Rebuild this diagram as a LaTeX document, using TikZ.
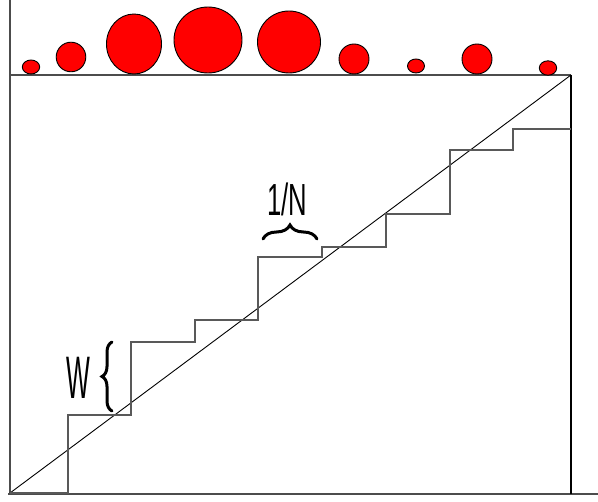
\documentclass[tikz,border=0pt]{standalone}
\usepackage{fontspec}
\setmainfont{Liberation Sans}
\usepackage{graphicx}
\usetikzlibrary{decorations.pathreplacing}
\begin{document}
\begin{tikzpicture}[x=1pt,y=-1pt,
  axis/.style={draw=black!70, line width=1.1pt},
  stair/.style={draw=black!65, line width=1.1pt},
  diag/.style={draw=black, line width=0.9pt},
  ball/.style={draw=black, fill=red, line width=0.9pt},
  brc/.style={draw=black, line width=3pt, line cap=round, decorate}
]
\useasboundingbox (0,0) rectangle (598,502);
% frame corners
\coordinate (O) at (10,493);
\coordinate (TL) at (10,75);
\coordinate (TR) at (571,75);
\coordinate (BR) at (571,494);
% axes
\draw[axis] (10,0) -- (O);
\draw[axis] (8,494) -- (598,494);
\draw[axis] (9,75) -- (TR);
\draw[draw=black, line width=1.1pt] (TR) -- (BR);
% diagonal
\draw[diag] (O) -- (TR);
% staircase
\draw[stair] (O) -- (68,493) -- (68,415) -- (131,415) -- (131,342) -- (195,342) -- (195,320)
  -- (258,320) -- (258,257) -- (322,257) -- (322,247) -- (386,247) -- (386,214)
  -- (450,214) -- (450,150) -- (513,150) -- (513,129) -- (571,129);
% balls
\draw[ball] (31,67) ellipse [x radius=8.7, y radius=7];
\draw[ball] (71,57) ellipse [x radius=14.8, y radius=14.8];
\draw[ball] (134,44) ellipse [x radius=27.5, y radius=30];
\draw[ball] (208,40) ellipse [x radius=34, y radius=33];
\draw[ball] (289,42) ellipse [x radius=31.5, y radius=31];
\draw[ball] (354,59) ellipse [x radius=15, y radius=15];
\draw[ball] (416,66) ellipse [x radius=8.5, y radius=7];
\draw[ball] (477,59) ellipse [x radius=15, y radius=15];
\draw[ball] (548,68) ellipse [x radius=8.7, y radius=7.2];
% braces
\coordinate (wb1) at (112,411);
\coordinate (wb2) at (112,342);
\draw[brc, decoration={brace, amplitude=10pt}] (wb1) -- (wb2);
\coordinate (nb1) at (263,239);
\coordinate (nb2) at (317,239);
\draw[brc, decoration={brace, amplitude=14pt}] (nb1) -- (nb2);
% labels
\node (W) at (78,378) {\scalebox{0.42}[1]{\fontsize{60}{60}\selectfont W}};
\node (N) at (287,199) {\scalebox{0.57}[1]{\fontsize{45}{45}\selectfont 1/N}};
\end{tikzpicture}
\end{document}
